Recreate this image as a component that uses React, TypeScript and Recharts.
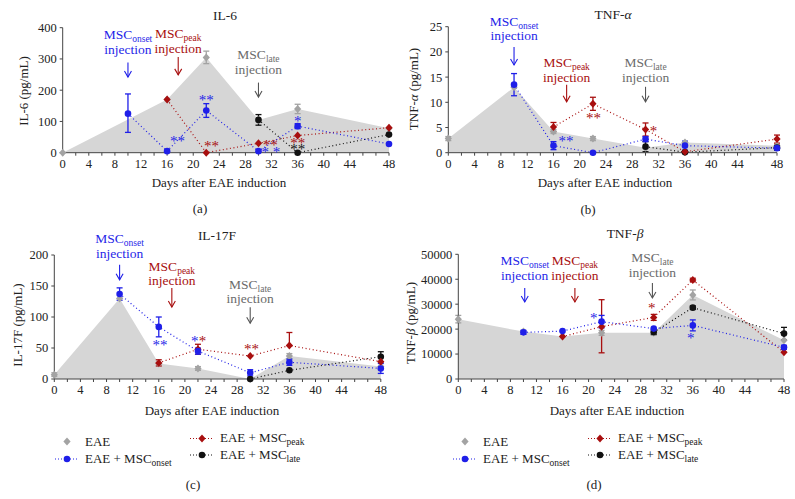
import { ComposedChart, Area, Line, XAxis, YAxis, ErrorBar, ReferenceDot } from 'recharts'

const FONT = "'Liberation Serif', 'DejaVu Serif', serif"
const BLUE = '#1f1fe8'
const RED = '#a80f0f'
const BLACK = '#111111'
const GRAY = '#a3a3a3'
const AREA = '#d6d6d6'
const LATE_TXT = '#6b6b6b'

const days = [0, 10, 16, 22, 30, 36, 50]
const xTicks = [0, 2, 4, 6, 8, 10, 12, 14, 16, 18, 20, 22, 24, 26, 28, 30, 32, 34, 36, 38, 40, 42, 44, 46, 48, 50]
const xTickLabels: Record<number, string> = {
  0: '0', 4: '4', 8: '8', 12: '12', 16: '16', 20: '20', 24: '24', 28: '28',
  32: '32', 36: '36', 40: '40', 44: '44', 50: '48',
}

// IL-6
const il6Eae = [0, null, 170, 305, 105, 140, 78]
const il6EaeErr = [null, null, null, 20, null, 15, null]
const il6Onset = [null, 125, 5, 135, 5, 85, 28]
const il6OnsetErr = [null, [60, 63], null, 22, null, 8, null]
const il6Peak = [null, null, 170, 0, 30, 55, 80]
const il6PeakErr = [null, null, null, null, null, null, null]
const il6Late = [null, null, null, null, 105, 0, 58]
const il6LateErr = [null, null, null, null, 17, null, null]
const il6Ticks = [0, 100, 200, 300, 400]

// TNF-alpha
const tnfaEae = [2.8, 13, 4.2, 2.8, 1.0, 2.0, 1.4]
const tnfaEaeErr = [0.4, null, 0.4, 0.4, null, null, null]
const tnfaOnset = [null, 13.5, 1.4, 0, 2.7, 1.4, 0.9]
const tnfaOnsetErr = [null, 2.2, 0.8, null, 0.5, 0.9, 0.3]
const tnfaPeak = [null, null, 5.1, 9.7, 4.6, 0.2, 2.7]
const tnfaPeakErr = [null, null, 0.9, 1.3, 1.3, null, 0.8]
const tnfaLate = [null, null, null, null, 1.2, 0.1, 1.0]
const tnfaLateErr = [null, null, null, null, 1.0, null, 0.5]
const tnfaTicks = [0, 5, 10, 15, 20, 25]

// IL-17F
const il17Eae = [7, 130, 25, 17, 0, 37, 20]
const il17EaeErr = [3, null, null, 3, null, 4, null]
const il17Onset = [null, 137, 84, 45, 10, 27, 17]
const il17OnsetErr = [null, 10, 16, 5, 5, 5, 8]
const il17Peak = [null, null, 26, 48, 37, 54, 28]
const il17PeakErr = [null, null, 5, 8, null, [0, 21], null]
const il17Late = [null, null, null, null, 0, 14, 36]
const il17LateErr = [null, null, null, null, null, null, 8]
const il17Ticks = [0, 50, 100, 150, 200]

// TNF-beta
const tnfbEae = [24000, 19000, 17000, 18500, 18500, 33700, 15500]
const tnfbEaeErr = [1500, null, null, 1000, null, 2000, null]
const tnfbOnset = [null, 18700, 19200, 23000, 20200, 21500, 12700]
const tnfbOnsetErr = [null, 800, null, 2500, null, 2200, 800]
const tnfbPeak = [null, null, 17000, 21000, 24700, 39700, 10700]
const tnfbPeakErr = [null, null, null, [10500, 10800], 1200, 700, null]
const tnfbLate = [null, null, null, null, 18800, 28600, 18200]
const tnfbLateErr = [null, null, null, null, 1000, 700, 2500]
const tnfbTicks = [0, 10000, 20000, 30000, 40000, 50000]

type Inj = { day: number; tip: number; len: number; gap: number; sub: string; color: string; arrow: string }
type Note = { day: number; value: number; text: string; color: string }

const onsetInj = { sub: 'onset', color: BLUE, arrow: BLUE }
const peakInj = { sub: 'peak', color: RED, arrow: RED }
const lateInj = { sub: 'late', color: LATE_TXT, arrow: '#555555' }

const il6Inj: Inj[] = [
  { day: 10, tip: 242, len: 14.5, gap: 9, ...onsetInj },
  { day: 17.7, tip: 249, len: 18, gap: 4, ...peakInj },
  { day: 30, tip: 178, len: 14.5, gap: 9, ...lateInj },
]
const tnfaInj: Inj[] = [
  { day: 10, tip: 17.4, len: 18, gap: 7, ...onsetInj },
  { day: 18, tip: 10.1, len: 17, gap: 3, ...peakInj },
  { day: 30, tip: 10.1, len: 15, gap: 5, ...lateInj },
]
const il17Inj: Inj[] = [
  { day: 10, tip: 160, len: 15, gap: 7, ...onsetInj },
  { day: 18, tip: 116, len: 19, gap: 3, ...peakInj },
  { day: 30, tip: 90, len: 16, gap: 4, ...lateInj },
]
const tnfbInj: Inj[] = [
  { day: 10.2, tip: 30900, len: 14, gap: 8, ...onsetInj },
  { day: 17.9, tip: 30900, len: 14, gap: 8, ...peakInj },
  { day: 29.8, tip: 32500, len: 15, gap: 6, ...lateInj },
]

const il6Notes: Note[] = [
  { day: 17.6, value: 40, text: '**', color: BLUE },
  { day: 22, value: 171, text: '**', color: BLUE },
  { day: 22.8, value: 26, text: '**', color: RED },
  { day: 31.8, value: 28, text: '**', color: RED },
  { day: 31.9, value: 6, text: '* *', color: BLUE },
  { day: 36, value: 105, text: '*', color: BLUE },
  { day: 36, value: 35, text: '**', color: RED },
  { day: 36, value: 15, text: '**', color: BLACK },
]
const tnfaNotes: Note[] = [
  { day: 17.9, value: 2.5, text: '**', color: BLUE },
  { day: 22.1, value: 7.1, text: '**', color: RED },
  { day: 31.2, value: 4.6, text: '*', color: RED },
]
const il17Notes: Note[] = [
  { day: 16.2, value: 56, text: '**', color: BLUE },
  { day: 21.5, value: 63, text: '*', color: BLUE },
  { day: 22.7, value: 63, text: '*', color: RED },
  { day: 30.2, value: 50, text: '**', color: RED },
]
const tnfbNotes: Note[] = [
  { day: 20.8, value: 25000, text: '*', color: BLUE },
  { day: 29.7, value: 28700, text: '*', color: RED },
  { day: 35.7, value: 17000, text: '*', color: BLUE },
]

function Diamond(props: any) {
  const { cx, cy, color } = props
  if (cx == null || cy == null || isNaN(cy)) return <g />
  return <path d={`M${cx},${cy - 4}L${cx + 3.6},${cy}L${cx},${cy + 4}L${cx - 3.6},${cy}Z`} fill={color} />
}

function Circle(props: any) {
  const { cx, cy, color } = props
  if (cx == null || cy == null || isNaN(cy)) return <g />
  return <circle cx={cx} cy={cy} r={3.3} fill={color} />
}

function Injection(props: any) {
  const { cx, cy, inj } = props
  const top = cy - inj.len
  const base = top - inj.gap
  return (
    <g fontFamily={FONT} fontSize={13.5}>
      <text x={cx} y={base - 14.5} textAnchor="middle" fill={inj.color}>
        MSC<tspan fontSize={9.5} dy={3}>{inj.sub}</tspan>
      </text>
      <text x={cx} y={base} textAnchor="middle" fill={inj.color}>injection</text>
      <line x1={cx} y1={top} x2={cx} y2={cy} stroke={inj.arrow} strokeWidth={1.1} />
      <path d={`M${cx - 3.5},${cy - 6}L${cx},${cy}L${cx + 3.5},${cy - 6}`} fill="none" stroke={inj.arrow} strokeWidth={1.1} />
    </g>
  )
}

function Star(props: any) {
  const { cx, cy, note } = props
  return (
    <text x={cx} y={cy + 6} textAnchor="middle" fontFamily={FONT} fontSize={15} fill={note.color}>
      {note.text}
    </text>
  )
}

type PanelProps = {
  left: number; top: number; width: number; height: number
  plotLeft: number; plotRight: number; plotTop: number; plotBottom: number
  yMax: number; yTicks: number[]
  eae: any[]; eaeErr: any[]; onset: any[]; onsetErr: any[]
  peak: any[]; peakErr: any[]; late: any[]; lateErr: any[]
  injections: Inj[]; notes: Note[]
}

function Panel(p: PanelProps) {
  const rows = days.map((day, i) => ({
    day,
    eae: p.eae[i], eaeErr: p.eaeErr[i],
    onset: p.onset[i], onsetErr: p.onsetErr[i],
    peak: p.peak[i], peakErr: p.peakErr[i],
    late: p.late[i], lateErr: p.lateErr[i],
  }))
  const yW = 40
  const xH = 20
  const margin = {
    top: p.plotTop - p.top,
    left: p.plotLeft - p.left - yW,
    right: p.left + p.width - p.plotRight,
    bottom: p.top + p.height - p.plotBottom - xH,
  }
  const tick = { fontSize: 12.5, fill: '#222', fontFamily: FONT }
  const dotted = '1 2.6'
  return (
    <div style={{ position: 'absolute', left: p.left, top: p.top }}>
      <ComposedChart width={p.width} height={p.height} data={rows} margin={margin}>
        <XAxis
          type="number" dataKey="day" domain={[0, 50]} ticks={xTicks} interval={0}
          tickFormatter={(v) => xTickLabels[v] ?? ''} height={xH} tickSize={3} tickMargin={3}
          stroke="#444" tick={tick}
        />
        <YAxis
          type="number" domain={[0, p.yMax]} ticks={p.yTicks} interval={0} width={yW}
          tickSize={3} tickMargin={3} stroke="#444" tick={tick}
        />
        <Area dataKey="eae" type="linear" stroke="none" fill={AREA} fillOpacity={1}
          connectNulls dot={false} activeDot={false} isAnimationActive={false} />
        <Line dataKey="eae" stroke="none" connectNulls activeDot={false} isAnimationActive={false}
          dot={(d: any) => <Diamond key={`e${d.index}`} {...d} color={GRAY} />}>
          <ErrorBar dataKey="eaeErr" width={3} stroke={GRAY} strokeWidth={1.3} direction="y" />
        </Line>
        <Line dataKey="late" stroke={BLACK} strokeWidth={1.2} strokeDasharray={dotted} connectNulls
          activeDot={false} isAnimationActive={false}
          dot={(d: any) => <Circle key={`l${d.index}`} {...d} color={BLACK} />}>
          <ErrorBar dataKey="lateErr" width={3} stroke={BLACK} strokeWidth={1.3} direction="y" />
        </Line>
        <Line dataKey="peak" stroke={RED} strokeWidth={1.2} strokeDasharray={dotted} connectNulls
          activeDot={false} isAnimationActive={false}
          dot={(d: any) => <Diamond key={`p${d.index}`} {...d} color={RED} />}>
          <ErrorBar dataKey="peakErr" width={3} stroke={RED} strokeWidth={1.3} direction="y" />
        </Line>
        <Line dataKey="onset" stroke={BLUE} strokeWidth={1.2} strokeDasharray={dotted} connectNulls
          activeDot={false} isAnimationActive={false}
          dot={(d: any) => <Circle key={`o${d.index}`} {...d} color={BLUE} />}>
          <ErrorBar dataKey="onsetErr" width={3} stroke={BLUE} strokeWidth={1.3} direction="y" />
        </Line>
        {p.notes.map((n, i) => (
          <ReferenceDot key={`n${i}`} x={n.day} y={n.value} r={0} ifOverflow="visible"
            shape={(s: any) => <Star {...s} note={n} />} />
        ))}
        {p.injections.map((inj, i) => (
          <ReferenceDot key={`i${i}`} x={inj.day} y={inj.tip} r={0} ifOverflow="visible"
            shape={(s: any) => <Injection {...s} inj={inj} />} />
        ))}
      </ComposedChart>
    </div>
  )
}

function Sub({ t }: { t: string }) {
  return <tspan fontSize={9.5} dy={3}>{t}</tspan>
}

function LegendBlock({ dx }: { dx: number }) {
  const line = (x1: number, x2: number, y: number, c: string) => (
    <line x1={x1 + dx} x2={x2 + dx} y1={y} y2={y} stroke={c} strokeWidth={1} strokeDasharray="1 2" />
  )
  return (
    <g fontFamily={FONT} fontSize={13} fill="#222">
      <Diamond cx={67 + dx} cy={441.5} color={GRAY} />
      <text x={85 + dx} y={446}>EAE</text>
      {line(55, 79, 459, BLUE)}
      <Circle cx={67 + dx} cy={459} color={BLUE} />
      <text x={85 + dx} y={462.5}>EAE + MSC<Sub t="onset" /></text>
      {line(190, 214, 438.5, RED)}
      <Diamond cx={202 + dx} cy={438.5} color={RED} />
      <text x={220 + dx} y={441.5}>EAE + MSC<Sub t="peak" /></text>
      {line(190, 214, 455, BLACK)}
      <Circle cx={202 + dx} cy={455} color={BLACK} />
      <text x={220 + dx} y={458.5}>EAE + MSC<Sub t="late" /></text>
    </g>
  )
}

export default function App() {
  return (
    <div style={{ position: 'absolute', left: 0, top: 0, width: 795, height: 499, background: '#fff', overflow: 'hidden' }}>
      <Panel left={0} top={0} width={397} height={200} plotLeft={62.7} plotRight={389} plotTop={27.7} plotBottom={152.7}
        yMax={400} yTicks={il6Ticks} eae={il6Eae} eaeErr={il6EaeErr} onset={il6Onset} onsetErr={il6OnsetErr}
        peak={il6Peak} peakErr={il6PeakErr} late={il6Late} lateErr={il6LateErr} injections={il6Inj} notes={il6Notes} />
      <Panel left={397} top={0} width={398} height={200} plotLeft={448.3} plotRight={777} plotTop={26.7} plotBottom={152.7}
        yMax={25} yTicks={tnfaTicks} eae={tnfaEae} eaeErr={tnfaEaeErr} onset={tnfaOnset} onsetErr={tnfaOnsetErr}
        peak={tnfaPeak} peakErr={tnfaPeakErr} late={tnfaLate} lateErr={tnfaLateErr} injections={tnfaInj} notes={tnfaNotes} />
      <Panel left={0} top={200} width={397} height={200} plotLeft={54.3} plotRight={380.8} plotTop={255} plotBottom={379}
        yMax={200} yTicks={il17Ticks} eae={il17Eae} eaeErr={il17EaeErr} onset={il17Onset} onsetErr={il17OnsetErr}
        peak={il17Peak} peakErr={il17PeakErr} late={il17Late} lateErr={il17LateErr} injections={il17Inj} notes={il17Notes} />
      <Panel left={397} top={200} width={398} height={200} plotLeft={458.3} plotRight={784} plotTop={254.3} plotBottom={379}
        yMax={50000} yTicks={tnfbTicks} eae={tnfbEae} eaeErr={tnfbEaeErr} onset={tnfbOnset} onsetErr={tnfbOnsetErr}
        peak={tnfbPeak} peakErr={tnfbPeakErr} late={tnfbLate} lateErr={tnfbLateErr} injections={tnfbInj} notes={tnfbNotes} />
      <svg width={795} height={499} style={{ position: 'absolute', left: 0, top: 0, pointerEvents: 'none' }}>
        <g fontFamily={FONT} fontSize={13.5} fill="#222" textAnchor="middle">
          <text x={225} y={19.5}>IL-6</text>
          <text x={613} y={18.5}>TNF-<tspan fontStyle="italic">α</tspan></text>
          <text x={217} y={239.5}>IL-17F</text>
          <text x={625} y={237.5}>TNF-<tspan fontStyle="italic">β</tspan></text>
        </g>
        <g fontFamily={FONT} fontSize={13} fill="#222" textAnchor="middle">
          <text x={219} y={187}>Days after EAE induction</text>
          <text x={605} y={187}>Days after EAE induction</text>
          <text x={212} y={414.5}>Days after EAE induction</text>
          <text x={617} y={414.5}>Days after EAE induction</text>
          <text transform="translate(27.5,91) rotate(-90)">IL-6 (pg/mL)</text>
          <text transform="translate(417.5,89) rotate(-90)">TNF-<tspan fontStyle="italic">α</tspan> (pg/mL)</text>
          <text transform="translate(21.5,325) rotate(-90)">IL-17F (pg/mL)</text>
          <text transform="translate(414.5,323) rotate(-90)">TNF-<tspan fontStyle="italic">β</tspan> (pg/mL)</text>
          <text x={200} y={213}>(a)</text>
          <text x={588} y={214}>(b)</text>
          <text x={193} y={489}>(c)</text>
          <text x={594} y={489}>(d)</text>
        </g>
        <LegendBlock dx={0} />
        <LegendBlock dx={398} />
      </svg>
    </div>
  )
}
